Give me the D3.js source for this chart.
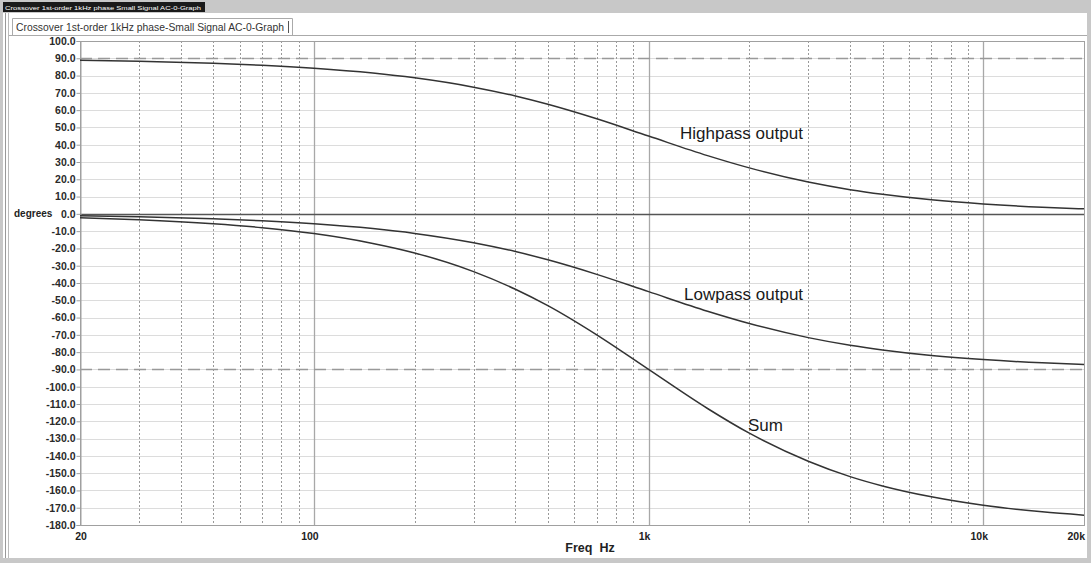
<!DOCTYPE html>
<html>
<head>
<meta charset="utf-8">
<script src="https://cdn.jsdelivr.net/npm/d3@7"></script>
<style>
  body { margin: 0; background: #ffffff; }
  svg { display: block; }
</style>
</head>
<body>
<svg class="s"></svg>
<script>
// frequency points (Hz)
var freqs = [20, 30, 50, 70, 100, 150, 200, 300, 400, 500, 700, 1000, 1500, 2000, 3000, 4000, 5000, 7000, 10000, 15000, 20000];

// phase in degrees
var highpass = [88.9, 88.3, 87.1, 86.0, 84.3, 81.5, 78.7, 73.3, 68.2, 63.4, 55.0, 45.0, 33.7, 26.6, 18.4, 14.0, 11.3, 8.1, 5.7, 3.8, 2.9];
var lowpass = [-1.1, -1.7, -2.9, -4.0, -5.7, -8.5, -11.3, -16.7, -21.8, -26.6, -35.0, -45.0, -56.3, -63.4, -71.6, -76.0, -78.7, -81.9, -84.3, -86.2, -87.1];
var sum = [-2.3, -3.4, -5.7, -8.0, -11.4, -17.1, -22.6, -33.4, -43.6, -53.1, -70.0, -90.0, -112.6, -126.9, -143.1, -152.0, -157.4, -163.7, -168.6, -172.4, -174.3];

var yTicks = d3.range(100, -181, -10);
var xTickVals = [20, 100, 1000, 10000, 20000];
var xTickLabels = ['20', '100', '1k', '10k', '20k'];
var minorFreqs = [30, 40, 50, 60, 70, 80, 90, 200, 300, 400, 500, 600, 700, 800, 900,
                  2000, 3000, 4000, 5000, 6000, 7000, 8000, 9000];
var majorFreqs = [100, 1000, 10000];

var seriesNames = ['Highpass output', 'Lowpass output', 'Sum'];
var windowTitle = 'Crossover 1st-order 1kHz phase Small Signal AC-0-Graph';
var tabTitle = 'Crossover 1st-order 1kHz phase-Small Signal AC-0-Graph';

var w = 1091;
var h = 563;
// note: "top" is reserved on window, so use plot* names
var plotL = 80, plotR = 1084, plotT = 41, plotB = 525;

var svg = d3.select('.s')
            .attr('width', w)
            .attr('height', h)
            .style('font-family', 'Liberation Sans, Arial, sans-serif');

// window chrome
svg.append('rect').attr('x', 0).attr('y', 0).attr('width', w).attr('height', 13).attr('fill', '#c8c8c8');
svg.append('rect').attr('x', 3).attr('y', 2).attr('width', 202).attr('height', 10).attr('fill', '#1a1a1a');
svg.append('text')
   .attr('x', 5).attr('y', 9.5)
   .attr('font-size', 6)
   .attr('fill', '#ffffff')
   .attr('textLength', 196)
   .attr('lengthAdjust', 'spacingAndGlyphs')
   .text(windowTitle);

svg.append('rect').attr('x', 0).attr('y', 13).attr('width', 3).attr('height', h - 13).attr('fill', '#c8c8c8');
svg.append('line').attr('x1', 5.5).attr('x2', 5.5).attr('y1', 13).attr('y2', 558).attr('stroke', '#999');
svg.append('line').attr('x1', 8.5).attr('x2', 8.5).attr('y1', 13).attr('y2', 558).attr('stroke', '#bbb');
svg.append('rect').attr('x', 1087).attr('y', 13).attr('width', 4).attr('height', h - 13).attr('fill', '#c8c8c8');
svg.append('rect').attr('x', 0).attr('y', 558).attr('width', w).attr('height', 5).attr('fill', '#c8c8c8');

// tab
svg.append('line').attr('x1', 9).attr('x2', 1087).attr('y1', 35.5).attr('y2', 35.5).attr('stroke', '#aaa');
svg.append('path')
   .attr('d', 'M12.5,35.5 V18.5 H292.5 V35.5')
   .attr('fill', 'none')
   .attr('stroke', '#aaa');
svg.append('text')
   .attr('x', 16).attr('y', 31)
   .attr('font-size', 11.5)
   .attr('fill', '#333')
   .attr('textLength', 268)
   .attr('lengthAdjust', 'spacingAndGlyphs')
   .text(tabTitle);
svg.append('line').attr('x1', 288.5).attr('x2', 288.5).attr('y1', 21).attr('y2', 33).attr('stroke', '#555');

var x = d3.scaleLog()
          .domain([20, 20000])
          .range([plotL, plotR]);

var y = d3.scaleLinear()
          .domain([-180, 100])
          .range([plotB, plotT]);

var grid = svg.append('g').attr('id', 'grid');

// horizontal grid
grid.selectAll('.hgrid')
    .data(yTicks)
    .enter()
    .append('line')
    .attr('x1', plotL).attr('x2', plotR)
    .attr('y1', function(d){ return Math.round(y(d)) + 0.5; })
    .attr('y2', function(d){ return Math.round(y(d)) + 0.5; })
    .attr('stroke', '#dcdcdc');

// minor vertical grid
grid.selectAll('.minor')
    .data(minorFreqs)
    .enter()
    .append('line')
    .attr('x1', function(d){ return Math.round(x(d)) + 0.5; })
    .attr('x2', function(d){ return Math.round(x(d)) + 0.5; })
    .attr('y1', plotT).attr('y2', plotB)
    .attr('stroke', '#999')
    .attr('stroke-dasharray', '2,2');

// major vertical grid
grid.selectAll('.major')
    .data(majorFreqs)
    .enter()
    .append('line')
    .attr('x1', function(d){ return Math.round(x(d)) + 0.5; })
    .attr('x2', function(d){ return Math.round(x(d)) + 0.5; })
    .attr('y1', plotT).attr('y2', plotB)
    .attr('stroke', '#a8a8a8')
    .attr('stroke-width', 1.3);

// frame
svg.append('rect')
   .attr('x', plotL + 0.5).attr('y', plotT + 0.5)
   .attr('width', plotR - plotL).attr('height', plotB - plotT)
   .attr('fill', 'none')
   .attr('stroke', '#a0a0a0');

// +-90 dashed references
svg.selectAll('.ref')
   .data([90, -90])
   .enter()
   .append('line')
   .attr('x1', plotL).attr('x2', plotR)
   .attr('y1', function(d){ return Math.round(y(d)) + 0.5; })
   .attr('y2', function(d){ return Math.round(y(d)) + 0.5; })
   .attr('stroke', '#999')
   .attr('stroke-width', 1.5)
   .attr('stroke-dasharray', '12,6');

// zero line
svg.append('line')
   .attr('x1', plotL).attr('x2', plotR)
   .attr('y1', Math.round(y(0)) + 0.5).attr('y2', Math.round(y(0)) + 0.5)
   .attr('stroke', '#555')
   .attr('stroke-width', 1.6);

// y axis
var yAxis = d3.axisLeft(y)
              .tickValues(yTicks)
              .tickSize(4)
              .tickFormat(d3.format('.1f'));

var gy = svg.append('g')
            .attr('transform', 'translate(' + (plotL + 0.5) + ',0)')
            .call(yAxis);
gy.select('.domain').attr('stroke', '#a0a0a0');
gy.selectAll('.tick line').attr('stroke', '#a0a0a0');
gy.selectAll('.tick text')
  .attr('font-size', 10.5)
  .attr('font-weight', 'bold')
  .attr('fill', '#2a2a2a')
  .attr('font-family', 'Liberation Sans, Arial, sans-serif')
  .attr('x', -5)
  .text(function(d){ return d3.format('.1f')(d).replace('−', '-'); });

svg.append('text')
   .attr('x', 14).attr('y', y(0) + 3.5)
   .attr('font-size', 10)
   .attr('font-weight', 'bold')
   .attr('fill', '#222')
   .text('degrees');

// x axis labels
svg.selectAll('.xlab')
   .data(xTickVals)
   .enter()
   .append('text')
   .attr('x', function(d, i){
     if (i == 0) return x(d) + 1;
     if (i == xTickVals.length - 1) return x(d) + 1;
     return x(d) - 4;
   })
   .attr('y', 540)
   .attr('text-anchor', function(d, i){ return i == xTickVals.length - 1 ? 'end' : 'middle'; })
   .attr('font-size', 10.5)
   .attr('font-weight', 'bold')
   .attr('fill', '#222')
   .text(function(d, i){ return xTickLabels[i]; });

svg.append('text')
   .attr('x', 590).attr('y', 552)
   .attr('text-anchor', 'middle')
   .attr('font-size', 12.5)
   .attr('font-weight', 'bold')
   .attr('fill', '#222')
   .attr('xml:space', 'preserve')
   .text('Freq  Hz');

// curves
var allSeries = [highpass, lowpass, sum];

var line = d3.line()
             .x(function(d, i){ return x(freqs[i]); })
             .y(function(d){ return y(d); })
             .curve(d3.curveMonotoneX);

svg.append('g')
   .attr('id', 'curves')
   .selectAll('path')
   .data(allSeries)
   .enter()
   .append('path')
   .attr('d', line)
   .attr('fill', 'none')
   .attr('stroke', '#333')
   .attr('stroke-width', 1.5);

// curve labels
var labelPos = [[680, 139], [684, 300], [748, 431]];

svg.selectAll('.clab')
   .data(seriesNames)
   .enter()
   .append('text')
   .attr('x', function(d, i){ return labelPos[i][0]; })
   .attr('y', function(d, i){ return labelPos[i][1]; })
   .attr('font-size', 17)
   .attr('fill', '#1a1a1a')
   .text(function(d){ return d; });
</script>
</body>
</html>
